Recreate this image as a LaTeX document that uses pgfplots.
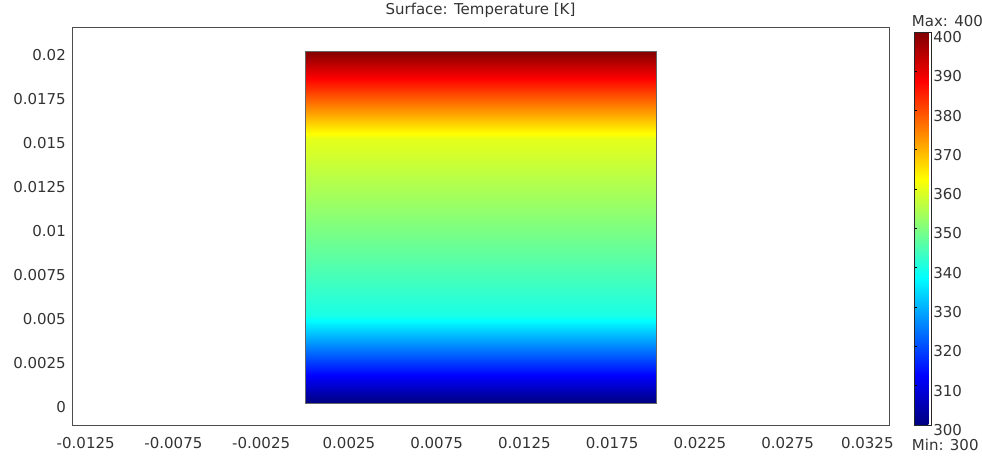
\documentclass[border=0pt]{standalone}
\usepackage{fontspec}
\setmainfont{DejaVu Sans}
\usepackage{pgfplots}
\pgfplotsset{compat=1.18}
\definecolor{txt}{HTML}{333333}
\begin{document}
\begin{tikzpicture}[font=\fontsize{15bp}{18bp}\selectfont]
\begin{axis}[
  name=main,
  scale only axis,
  width=817bp, height=397.7bp,
  xmin=-0.01328, xmax=0.03328,
  ymin=-0.00129, ymax=0.0213,
  scaled x ticks=false, scaled y ticks=false,
  axis line style={black!70, line width=1bp},
  major tick length=0pt,
  xtick={-0.0125,-0.0075,-0.0025,0.0025,0.0075,0.0125,0.0175,0.0225,0.0275,0.0325},
  xticklabels={-0.0125,-0.0075,-0.0025,0.0025,0.0075,0.0125,0.0175,0.0225,0.0275,0.0325\hspace*{16bp}},
  ytick={0,0.0025,0.005,0.0075,0.01,0.0125,0.015,0.0175,0.02},
  yticklabels={0,0.0025,0.005,0.0075,0.01,0.0125,0.015,0.0175,0.02},
  xticklabel style={anchor=north, inner sep=0pt, yshift=-11bp, text=txt},
  yticklabel style={anchor=east, inner sep=0pt, xshift=-6bp, yshift=-4bp, text=txt},
  title={Surface: Temperature [K]},
  title style={at={(0.5,1)}, anchor=base, yshift=7.3bp, inner sep=0pt, text=txt},
  colormap/jet,
  point meta min=300, point meta max=400,
  colorbar,
  colorbar style={
    at={(parent axis.north east)}, anchor=north west,
    xshift=16.7bp, yshift=-4bp,
    width=17bp, height=393bp,
    ytick={300,310,320,330,340,350,360,370,380,390,400},
    yticklabel pos=right, ytick pos=left,
    tick align=inside, major tick length=3bp,
    major tick style={black, line width=0.8bp},
    axis line style={black!85, line width=0.8bp},
    /pgf/number format/assume math mode=true,
    yticklabel style={anchor=west, inner sep=0pt, xshift=2bp, yshift=-5bp, text=txt},
    after end axis/.code={
      \node[anchor=south west, inner sep=0pt, xshift=-2.5bp, yshift=5bp, text=txt] at (rel axis cs:0,1) {Max: 400};
      \node[anchor=north west, inner sep=0pt, xshift=-2.5bp, yshift=-14bp, text=txt] at (rel axis cs:0,0) {Min: 300};
    },
  },
]
\addplot[patch, patch type=rectangle, shader=interp, point meta=explicit]
  table[x=x, y=y, meta=T] {
x y T
0 0 300
0.02 0 300
0.02 0.005 340
0 0.005 340
0 0.005 340
0.02 0.005 340
0.02 0.015 360
0 0.015 360
0 0.015 360
0.02 0.015 360
0.02 0.02 400
0 0.02 400
};
\addplot[black!60, line width=0.7bp, mark=none] coordinates {(0,0) (0.02,0) (0.02,0.02) (0,0.02) (0,0)};
\end{axis}
\pgfresetboundingbox
\path[use as bounding box] ([shift={(-72bp,-33.3bp)}]main.south west) rectangle ([shift={(93bp,28bp)}]main.north east);
\end{tikzpicture}
\end{document}
